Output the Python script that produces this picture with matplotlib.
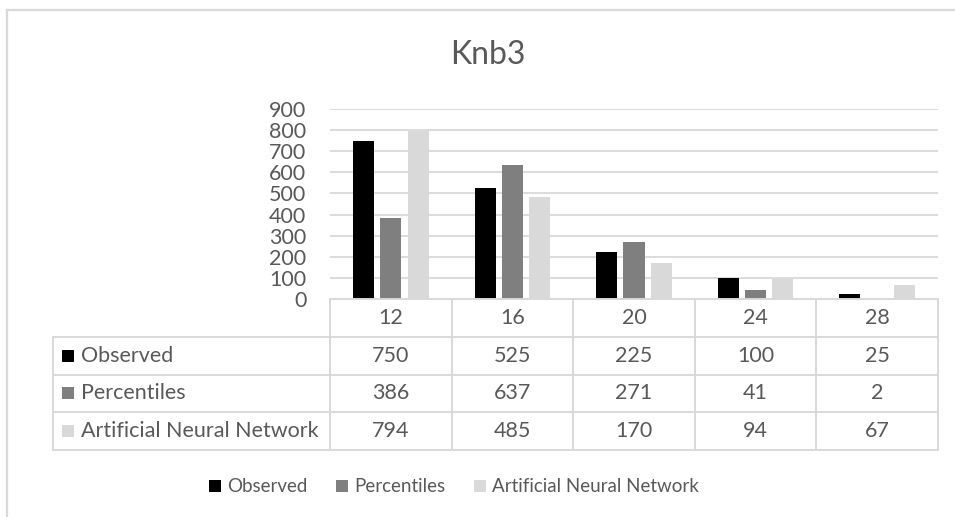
import numpy as np
import matplotlib as mpl
import matplotlib.pyplot as plt
from matplotlib.lines import Line2D

mpl.rcParams['font.family'] = ['Lato', 'DejaVu Sans']
mpl.rcParams['font.size'] = 15.5
mpl.rcParams['text.color'] = '#595959'

categories = ['12', '16', '20', '24', '28']
series_names = ['Observed', 'Percentiles', 'Artificial Neural Network']
observed = [750, 525, 225, 100, 25]
percentiles = [386, 637, 271, 41, 2]
ann = [794, 485, 170, 94, 67]
colors = ['#000000', '#7f7f7f', '#d9d9d9']

W, H = 955, 517
fig = plt.figure(figsize=(W / 100, H / 100), dpi=100)

def fx(px):
    return px / W

def fy(py):
    return 1 - py / H

grid_c = '#d9d9d9'
text_c = '#595959'
fs = 15.5

# outer chart frame (cut off at right and bottom)
fig.add_artist(Line2D([fx(7), 1.0], [fy(10), fy(10)], color=grid_c, lw=1.6))
fig.add_artist(Line2D([fx(7), fx(7)], [fy(10), 0.0], color=grid_c, lw=1.6))

fig.text(fx(488), fy(55), 'Knb3', ha='center', va='center', fontsize=23, color=text_c)

# bar area
x0, x1 = 330, 938
ytop, ybot = 109, 299
ax = fig.add_axes([fx(x0), fy(ybot), fx(x1) - fx(x0), fy(ytop) - fy(ybot)])
x = np.arange(len(categories))
width = 0.173
offsets = [-0.225, 0.0, 0.225]
all_series = [observed, percentiles, ann]
bars = []
for vals, off, c, name in zip(all_series, offsets, colors, series_names):
    b = ax.bar(x + off, vals, width, color=c, label=name, zorder=2)
    bars.append(b)
ax.set_xlim(-0.5, len(categories) - 0.5)
ax.set_ylim(0, 900)
ax.set_yticks(np.arange(0, 901, 100))
ax.set_xticks([])
ax.yaxis.grid(True, color=grid_c, lw=1.3)
ax.set_axisbelow(True)
ax.tick_params(axis='y', length=0, pad=17, colors=text_c, labelsize=fs)
for s in ax.spines.values():
    s.set_visible(False)

# data table
tl, tr, tt, tb = 53, 938, 299, 450
cat_w = (x1 - x0) / len(categories)
left_w = (x0 - tl) / cat_w
tax = fig.add_axes([fx(tl), fy(tb), fx(tr) - fx(tl), fy(tt) - fy(tb)])
tax.set_xlim(-0.5 - left_w, len(categories) - 0.5)
tax.set_ylim(4, 0)
tax.axis('off')
lw = 1.4
xl = -0.5 - left_w
xr = len(categories) - 0.5
# horizontals
tax.plot([-0.5, xr], [0, 0], color=grid_c, lw=lw, clip_on=False)
for r in [1, 2, 3, 4]:
    tax.plot([xl, xr], [r, r], color=grid_c, lw=lw, clip_on=False)
# verticals
tax.plot([xl, xl], [1, 4], color=grid_c, lw=lw, clip_on=False)
for c in range(len(categories) + 1):
    tax.plot([c - 0.5, c - 0.5], [0, 4], color=grid_c, lw=lw, clip_on=False)
for i, cat in enumerate(categories):
    tax.text(i, 0.5, cat, ha='center', va='center', fontsize=fs, color=text_c)
for r, (name, vals, c) in enumerate(zip(series_names, all_series, colors)):
    yy = r + 1.5
    tax.plot([xl + 14.5 / cat_w], [yy], marker='s', markersize=9,
             color=c, markeredgewidth=0, clip_on=False)
    tax.text(xl + 28 / cat_w, yy, name, ha='left', va='center', fontsize=fs, color=text_c)
    for i, v in enumerate(vals):
        tax.text(i, yy, str(v), ha='center', va='center', fontsize=fs, color=text_c)

fig.legend(handles=bars, labels=series_names, loc='center',
           bbox_to_anchor=(fx(454), fy(487)), ncol=3, frameon=False,
           handlelength=0.65, handleheight=0.65, handletextpad=0.3,
           columnspacing=1.55, fontsize=13.5, labelcolor=text_c)

fig.savefig('out.png', dpi=100)
